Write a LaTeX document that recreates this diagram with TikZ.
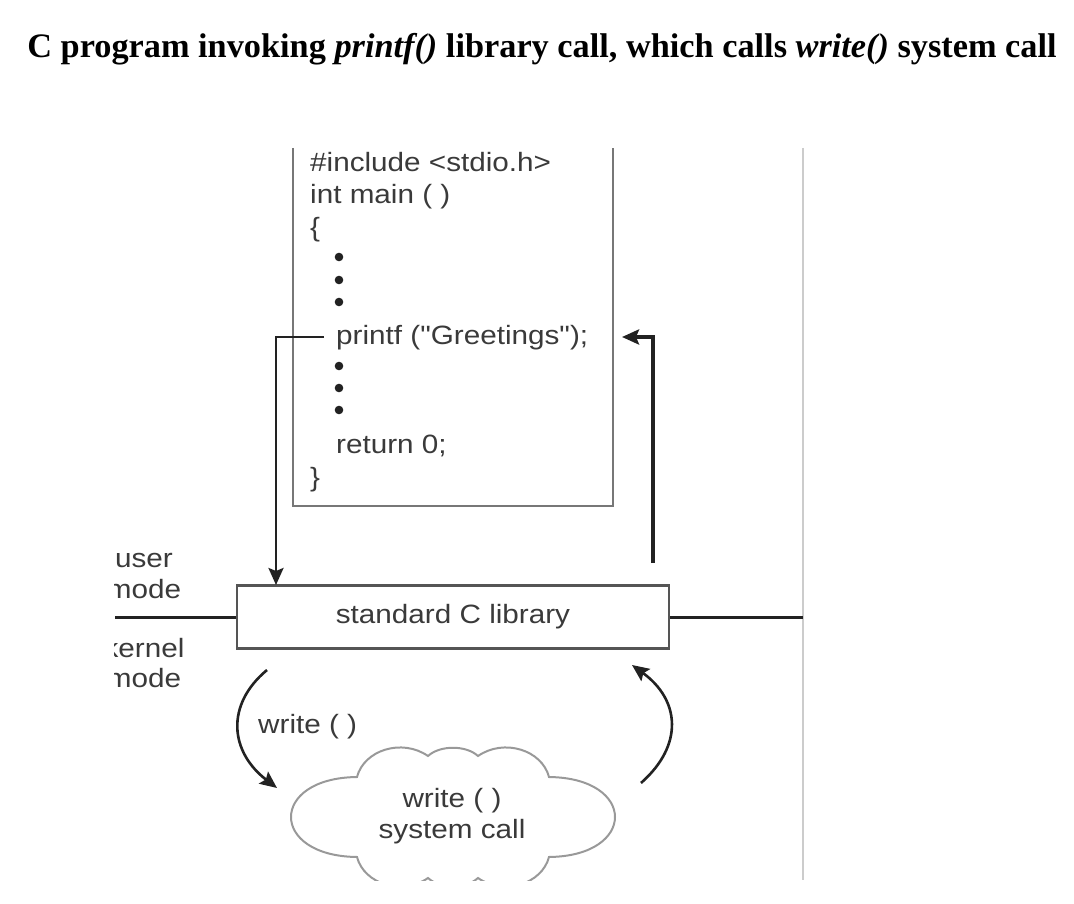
\documentclass[tikz,border=0pt]{standalone}
\usepackage{fontspec}
\usetikzlibrary{arrows.meta}
\newfontfamily\hv[FakeStretch=1.12]{Liberation Sans}
\newfontfamily\tm{Liberation Serif}
\definecolor{codetext}{HTML}{3A3A3A}
\definecolor{boxline}{HTML}{777777}
\definecolor{libline}{HTML}{555555}
\definecolor{arrowc}{HTML}{222222}
\definecolor{cloudline}{HTML}{999999}
\definecolor{sepline}{HTML}{CCCCCC}
\tikzset{
  codeline/.style={anchor=base west, inner sep=0pt, text=codetext, font=\hv\fontsize{26.5}{30}\selectfont},
  lbl/.style={anchor=base, inner sep=0pt, text=codetext, font=\hv\fontsize{26.5}{30}\selectfont},
  codedot/.style={fill=arrowc, draw=none},
  flow/.style={draw=arrowc, line width=3pt, -{Stealth[length=17pt,width=15pt,inset=3pt]}},
  curvearrow/.style={draw=arrowc, line width=2.6pt, -{Stealth[length=17pt,width=15pt,inset=3pt]}},
  libbox/.style={draw=libline, line width=2.5pt, minimum width=432pt, minimum height=63pt, inner sep=0pt, text=codetext, font=\hv\fontsize{26.5}{30}\selectfont},
}
\begin{document}
\begin{tikzpicture}[x=1pt,y=-1pt]
\useasboundingbox (0,0) rectangle (1074,904);
% title
\node[anchor=base, inner sep=0pt, font=\tm\bfseries\fontsize{34.3}{38}\selectfont] (title) at (542,58)
  {C program invoking \textit{printf()} library call, which calls \textit{write()} system call};
% code box (open at top)
\draw[boxline, line width=2pt] (293,148) -- (293,506) -- (613,506) -- (613,148);
% separator line on right
\draw[sepline, line width=2pt] (803,148) -- (803,880);
% code lines
\node[codeline] (l1) at (310,172) {\#include <stdio.h>};
\node[codeline] (l2) at (310,204) {int main ( )};
\node[codeline] (l3) at (310,237) {\{};
\fill[codedot] (339,257) circle (4.3);
\fill[codedot] (339,280) circle (4.3);
\fill[codedot] (339,302) circle (4.3);
\node[codeline] (printf) at (336,344) {printf ("Greetings");};
\fill[codedot] (339,366) circle (4.3);
\fill[codedot] (339,388) circle (4.3);
\fill[codedot] (339,410) circle (4.3);
\node[codeline] (ret) at (336,453) {return 0;};
\node[codeline] (l5) at (310,486) {\}};
% library box
\node[libbox] (lib) at (453,617) {standard C library};
% mode line
\draw[arrowc, line width=3pt] (115,617) -- (lib.west);
\draw[arrowc, line width=3pt] (lib.east) -- (803,617);
% left labels, clipped at the left like the reference
\begin{scope}
\clip (114,530) rectangle (300,700);
\node[lbl] (user) at (144,567) {user};
\node[lbl] (umode) at (144,598) {mode};
\node[lbl] (kernel) at (144,657) {kernel};
\node[lbl] (kmode) at (144,687) {mode};
\end{scope}
% printf -> library
\coordinate (pL) at (324,337);
\coordinate (libIn) at (276,585);
\draw[flow, line width=2.6pt] (pL) -- (276,337) -- (libIn);
% library -> back to printf
\coordinate (libOut) at (653,563);
\coordinate (pR) at (622,337);
\draw[flow, line width=3.5pt] (libOut) -- (653,337) -- (pR);
% cloud
\begin{scope}
\clip (200,700) rectangle (700,880);
\draw[cloudline, line width=2pt]
  (357,777) .. controls (364,750) and (402,738) .. (428,756)
  .. controls (440,745) and (466,745) .. (478,756)
  .. controls (504,738) and (542,750) .. (549,777)
  .. controls (637,778) and (637,856) .. (549,857)
  .. controls (542,884) and (504,896) .. (478,878)
  .. controls (466,889) and (440,889) .. (428,878)
  .. controls (402,896) and (364,884) .. (357,857)
  .. controls (269,856) and (269,778) .. cycle;
\end{scope}
\node[lbl] (cw) at (452,807) {write ( )};
\node[lbl] (cs) at (452,838) {system call};
\coordinate (sysc) at (453,817);
% curved arrows
\coordinate (a1s) at (267,670);
\coordinate (a1e) at (277,788);
\draw[curvearrow] (a1s) .. controls (225,705) and (230,752) .. (a1e);
\node[codeline] (wlbl) at (258,733) {write ( )};
\coordinate (a2s) at (641,783);
\coordinate (a2e) at (632,665);
\draw[curvearrow] (a2s) .. controls (684,745) and (680,700) .. (a2e);
\end{tikzpicture}
\end{document}
